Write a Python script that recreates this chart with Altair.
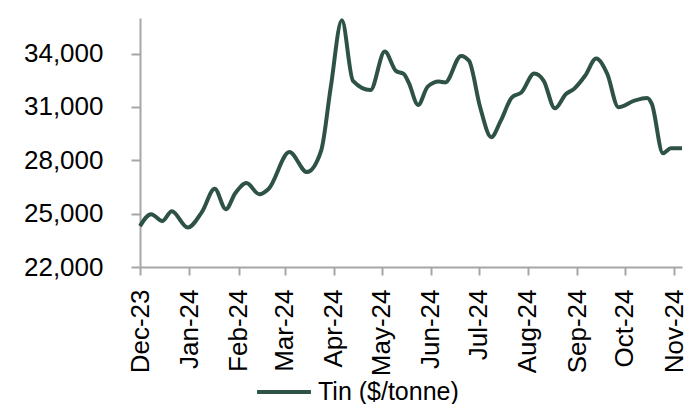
import altair as alt
import pandas as pd

dates = [
    "2023-12-01", "2023-12-08", "2023-12-15", "2023-12-21", "2023-12-31",
    "2024-01-09", "2024-01-17", "2024-01-24", "2024-01-30", "2024-02-06",
    "2024-02-14", "2024-02-20", "2024-03-04", "2024-03-15", "2024-03-24",
    "2024-03-30", "2024-04-06", "2024-04-13", "2024-04-24", "2024-05-03",
    "2024-05-10", "2024-05-15", "2024-05-18", "2024-05-24", "2024-05-30",
    "2024-06-06", "2024-06-10", "2024-06-20", "2024-06-25", "2024-07-02",
    "2024-07-09", "2024-07-15", "2024-07-22", "2024-07-28", "2024-08-05",
    "2024-08-11", "2024-08-18", "2024-08-25", "2024-08-30", "2024-09-06",
    "2024-09-13", "2024-09-20", "2024-09-27", "2024-10-07", "2024-10-15",
    "2024-10-18", "2024-10-25", "2024-10-30", "2024-11-06",
]
prices = [
    24300, 24970, 24590, 25140, 24220,
    25100, 26400, 25250, 26160, 26720,
    26090, 26400, 28460, 27340, 28550,
    32100, 35870, 32470, 31950, 34110,
    33030, 32850, 32380, 31110, 32140,
    32430, 32380, 33870, 33590, 30980,
    29300, 30230, 31540, 31820, 32880,
    32470, 30920, 31730, 32010, 32750,
    33720, 32850, 30980, 31350, 31500,
    31170, 28400, 28680, 28680,
]
series_name = "Tin ($/tonne)"
month_ticks = [(2023, 12)] + [(2024, m) for m in range(1, 12)]
y_ticks = [22000, 25000, 28000, 31000, 34000]

line_color = "#2e5345"
axis_color = "#a6a6a6"
font = "Liberation Sans"

df = pd.DataFrame({"date": dates, "price": prices, "series": [series_name] * len(dates)})

x_values = [alt.DateTime(year=y, month=m, date=1, utc=True) for (y, m) in month_ticks]

chart = alt.Chart(df).mark_line(interpolate="monotone", strokeWidth=4).encode(
    x=alt.X(
        "date:T",
        title=None,
        scale=alt.Scale(
            type="utc",
            domain=[alt.DateTime(year=2023, month=12, date=1, utc=True),
                    alt.DateTime(year=2024, month=11, date=6, utc=True)],
        ),
        axis=alt.Axis(
            values=x_values, format="%b-%y", labelAngle=-90, grid=False,
            tickSize=8, labelPadding=14, labelFontSize=26, labelFont=font,
            labelColor="#000000", domainColor=axis_color, tickColor=axis_color,
            domainWidth=2, tickWidth=2, labelOverlap=False, labelBound=False, labelFlush=False,
        ),
    ),
    y=alt.Y(
        "price:Q",
        title=None,
        scale=alt.Scale(domain=[22000, 36000], nice=False, zero=False),
        axis=alt.Axis(
            values=y_ticks, format=",.0f", grid=False, tickSize=9, labelPadding=28,
            labelFontSize=26, labelFont=font, labelColor="#000000",
            domainColor=axis_color, tickColor=axis_color, domainWidth=2, tickWidth=2,
        ),
    ),
    color=alt.Color(
        "series:N",
        scale=alt.Scale(range=[line_color]),
        legend=alt.Legend(
            title=None, orient="none", legendX=115, legendY=345, direction="horizontal",
            symbolType="stroke", symbolSize=2900, symbolStrokeWidth=4,
            labelFontSize=25, labelFont=font, labelColor="#000000", labelOffset=5,
        ),
    ),
).properties(
    width=542,
    height=249,
    autosize=alt.AutoSizeParams(type="none"),
    padding={"left": 132, "top": 10, "right": 10, "bottom": 137},
).configure_view(stroke=None)

chart.save("out.html", embed_options={"renderer": "svg", "actions": False})
